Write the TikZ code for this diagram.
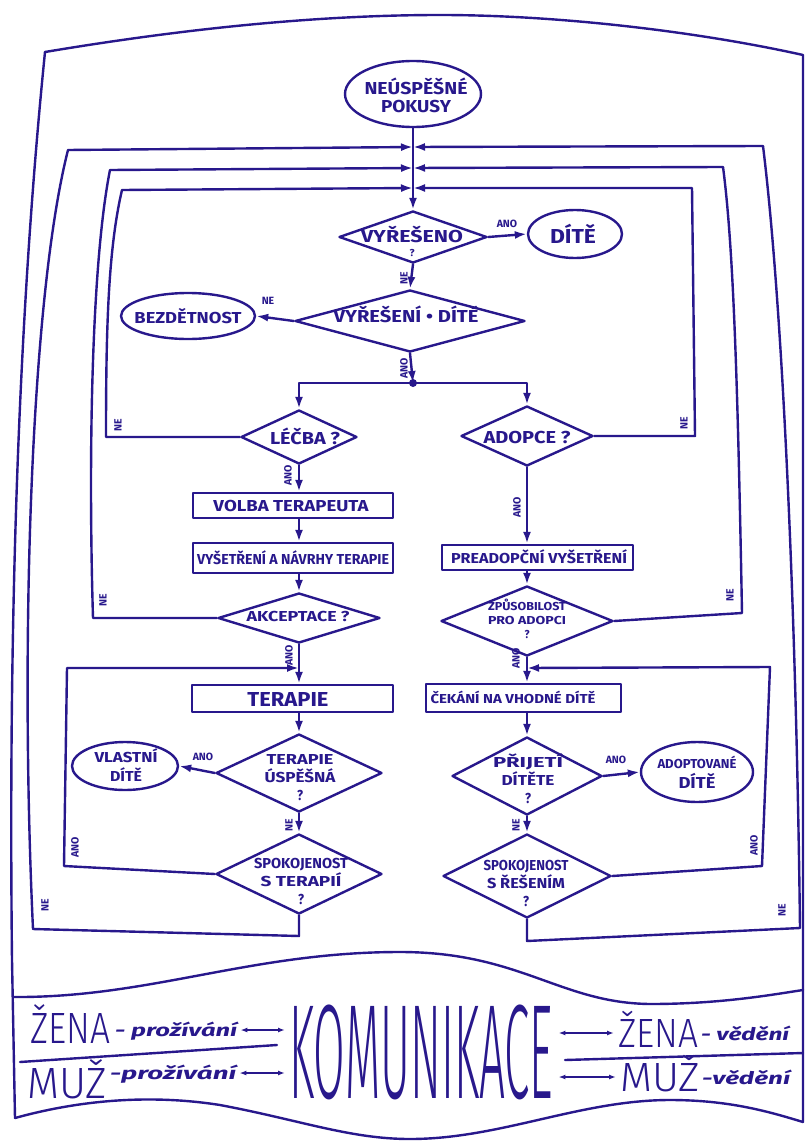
\documentclass[tikz,border=0pt]{standalone}
\usepackage{graphicx}
\usepackage{fontspec}
\setmainfont{Fira Sans}
\newfontfamily\thinfont{Fira Sans Light}
\usetikzlibrary{shapes.geometric,arrows.meta}
\definecolor{ink}{RGB}{40,24,140}
% caps text scaled to a given width and cap height
\newcommand\cbox[3]{\resizebox{#1}{#2}{\raisebox{0pt}[\fontcharht\font`X][0pt]{#3}}}
\tikzset{
  ln/.style={draw=ink, line width=2.4pt, line join=round, line cap=round},
  arr/.style={ln, -{Latex[length=12pt,width=8pt]}},
  dbl/.style={draw=ink, line width=1.4pt, {Latex[length=7pt,width=5pt]}-{Latex[length=7pt,width=5pt]}},
  ell/.style={ln, ellipse, inner sep=0pt},
  dia/.style={ln, diamond, inner sep=0pt},
  boxn/.style={ln, rectangle, inner sep=0pt},
  lbl/.style={text=ink, inner sep=0pt, font=\bfseries\fontsize{10.5}{12}\selectfont},
  txt/.style={text=ink, inner sep=0pt, align=center, font=\bfseries\fontsize{12}{18}\selectfont},
  big/.style={text=ink, inner sep=0pt, anchor=base west},
}
\begin{document}
\begin{tikzpicture}[x=1pt,y=-1pt]
\useasboundingbox (0,0) rectangle (805,1142);
\fill[white] (0,0) rectangle (805,1142);

% ---------- outer frame and bottom band ----------
\draw[ln] (45,52) .. controls (200,26) and (330,15) .. (440,15)
  .. controls (560,15) and (700,32) .. (803,55) -- (803,1122);
\draw[ln] (45,52) .. controls (20,300) and (8,600) .. (12,960) -- (15,1118);
\draw[ln] (13,997) .. controls (150,998) and (250,952) .. (400,952)
  .. controls (520,952) and (560,1003) .. (650,1004)
  .. controls (720,1004) and (770,995) .. (803,990);
\draw[ln] (15,1118) .. controls (80,1100) and (150,1094) .. (220,1105)
  .. controls (300,1120) and (350,1139) .. (410,1139)
  .. controls (500,1139) and (580,1100) .. (670,1100)
  .. controls (730,1100) and (770,1112) .. (803,1122);
\draw[ln] (20,1062) -- (277,1045);
\draw[ln] (565,1060) -- (803,1053);

% ---------- flowchart nodes ----------
\node[ell, minimum width=136pt, minimum height=66pt] (start) at (413,94) {};
\node[txt] (startT) at (416,98) {\cbox{103pt}{12pt}{NEÚSPĚŠNÉ}\\\cbox{70pt}{12pt}{POKUSY}};

\node[dia, minimum width=148pt, minimum height=52pt] (d1) at (413,237) {};
\node[txt] (d1T) at (412,236) {\cbox{102pt}{12pt}{VYŘEŠENO}};
\node[txt] (d1Q) at (412,253) {\cbox{5pt}{7pt}{?}};

\node[ell, minimum width=94pt, minimum height=48pt] (e1) at (575,234) {};
\node[txt] (e1T) at (573,236) {\cbox{46pt}{14pt}{DÍTĚ}};

\node[dia, minimum width=230pt, minimum height=62pt] (d2) at (410,321) {};
\node[txt] (d2T) at (406,316) {\cbox{145pt}{12pt}{VYŘEŠENÍ • DÍTĚ}};

\node[ell, minimum width=134pt, minimum height=46pt] (e2) at (188,316) {};
\node[txt] (e2T) at (188,318) {\cbox{107pt}{11pt}{BEZDĚTNOST}};

\fill[ink] (413,383) circle (4pt);
\coordinate (split) at (413,383);

\node[dia, minimum width=116pt, minimum height=54pt] (d3) at (299,437) {};
\node[txt] (d3T) at (305,438) {\cbox{70pt}{12pt}{LÉČBA ?}};

\node[dia, minimum width=132pt, minimum height=60pt] (d4) at (527,436) {};
\node[txt] (d4T) at (527,437) {\cbox{87pt}{12pt}{ADOPCE ?}};

\node[boxn, minimum width=200pt, minimum height=25pt] (b1) at (293,505.5) {};
\node[txt] (b1T) at (291,506) {\cbox{155pt}{11pt}{VOLBA TERAPEUTA}};

\node[boxn, minimum width=200pt, minimum height=30pt] (b2) at (293,558) {};
\node[txt] (b2T) at (293,559) {\cbox{192pt}{10pt}{VYŠETŘENÍ A NÁVRHY TERAPIE}};

\node[boxn, minimum width=191pt, minimum height=25pt] (b3) at (537.5,557.5) {};
\node[txt] (b3T) at (539,558) {\cbox{176pt}{10pt}{PREADOPČNÍ VYŠETŘENÍ}};

\node[dia, minimum width=162pt, minimum height=50pt] (d5) at (299,618) {};
\node[txt] (d5T) at (298,616) {\cbox{103pt}{10pt}{AKCEPTACE ?}};

\node[dia, minimum width=172pt, minimum height=70pt] (d6) at (527,621) {};
\node[txt, font=\bfseries\fontsize{8}{14}\selectfont] (d6T) at (527,620)
  {\cbox{78pt}{8pt}{ZPŮSOBILOST}\\\cbox{78pt}{8pt}{PRO ADOPCI}\\\cbox{5pt}{8pt}{?}};

\node[boxn, minimum width=201pt, minimum height=27pt] (b4) at (292.5,698.5) {};
\node[txt] (b4T) at (288,699) {\cbox{81pt}{14pt}{TERAPIE}};

\node[boxn, minimum width=195pt, minimum height=28pt] (b5) at (523.5,698) {};
\node[txt] (b5T) at (513,699) {\cbox{165pt}{9pt}{ČEKÁNÍ NA VHODNÉ DÍTĚ}};

\node[dia, minimum width=166pt, minimum height=78pt] (d7) at (299,773) {};
\node[txt, font=\bfseries\fontsize{11}{18}\selectfont] (d7T) at (300,777)
  {\cbox{67pt}{10pt}{TERAPIE}\\\cbox{71pt}{10pt}{ÚSPĚŠNÁ}\\\cbox{6pt}{10pt}{?}};

\node[ell, minimum width=106pt, minimum height=48pt] (e3) at (125,766) {};
\node[txt, font=\bfseries\fontsize{10}{19}\selectfont] (e3T) at (126,767)
  {\cbox{63pt}{10pt}{VLASTNÍ}\\\cbox{32pt}{10pt}{DÍTĚ}};

\node[dia, minimum width=150pt, minimum height=78pt] (d8) at (527,776) {};
\node[txt, font=\bfseries\fontsize{10}{18}\selectfont] (d8T) at (528,780)
  {\cbox{70pt}{10pt}{PŘIJETÍ}\\\cbox{53pt}{10pt}{DÍTĚTE}\\\cbox{6pt}{10pt}{?}};

\node[ell, minimum width=112pt, minimum height=60pt] (e4) at (697,772) {};
\node[txt, font=\bfseries\fontsize{10}{20}\selectfont] (e4T) at (697,774)
  {\cbox{79pt}{9pt}{ADOPTOVANÉ}\\\cbox{37pt}{11pt}{DÍTĚ}};

\node[dia, minimum width=166pt, minimum height=80pt] (d9) at (299,874) {};
\node[txt, font=\bfseries\fontsize{10}{18}\selectfont] (d9T) at (301,881)
  {\cbox{94pt}{10pt}{SPOKOJENOST}\\\cbox{81pt}{10pt}{S TERAPIÍ}\\\cbox{6pt}{10pt}{?}};

\node[dia, minimum width=168pt, minimum height=84pt] (d10) at (527,876) {};
\node[txt, font=\bfseries\fontsize{10}{18}\selectfont] (d10T) at (526,883)
  {\cbox{85pt}{10pt}{SPOKOJENOST}\\\cbox{78pt}{10pt}{S ŘEŠENÍM}\\\cbox{6pt}{10pt}{?}};

% ---------- junction points ----------
\coordinate (c1) at (413,147);
\coordinate (c2) at (413,168);
\coordinate (c3) at (413,188);
\coordinate (jL) at (299,668);
\coordinate (jR) at (527,668);

% ---------- main connectors ----------
\draw[arr] (start.south) -- (d1.north);
\draw[arr] (d1.east) -- (e1.west);
\draw[arr] (d1.south) -- (d2.north);
\draw[arr] (d2.west) -- (e2.east);
\draw[arr] (d2.south) -- (split);
\draw[arr] (split) -- (299,383) -- (d3.north);
\draw[arr] (split) -- (527,383) -- (d4.north);
\draw[arr] (d3.south) -- (d3.south |- b1.north);
\draw[arr] (d3.south |- b1.south) -- (d3.south |- b2.north);
\draw[arr] (d5.north |- b2.south) -- (d5.north);
\draw[arr] (d5.south) -- (d5.south |- b4.north);
\draw[arr] (d7.north |- b4.south) -- (d7.north);
\draw[arr] (d7.west) -- (e3.east);
\draw[arr] (d7.south) -- (d9.north);
\draw[arr] (d4.south) -- (d4.south |- b3.north);
\draw[arr] (d6.north |- b3.south) -- (d6.north);
\draw[arr] (d6.south) -- (d6.south |- b5.north);
\draw[arr] (d8.north |- b5.south) -- (d8.north);
\draw[arr] (d8.east) -- (e4.west);
\draw[arr] (d8.south) -- (d10.north);

% ---------- feedback loops ----------
\draw[arr] (d9.south) -- (299,936) -- (33,929) .. controls (20,650) and (30,300) .. (68,150) -- (c1);
\draw[arr] (d10.south) -- (527,941) -- (800,928) .. controls (796,600) and (782,300) .. (763,146) -- (c1);
\draw[arr] (d5.west) -- (93,618) .. controls (88,450) and (92,260) .. (110,170) -- (c2);
\draw[arr] (d6.east) -- (742,613) .. controls (738,400) and (734,250) .. (723,167) -- (c2);
\draw[arr] (d3.west) -- (106,437) .. controls (106,330) and (108,250) .. (122,190) -- (c3);
\draw[arr] (d4.east) -- (695,436) -- (692,188) -- (c3);
\draw[arr] (d9.west) -- (64,866) -- (67,668) -- (jL);
\draw[arr] (d10.east) -- (762,866) -- (770,667) -- (jR);

% ---------- branch labels ----------
\node[lbl] (l1) at (507,224) {ANO};
\node[lbl, rotate=90] (l2) at (404,278) {NE};
\node[lbl] (l3) at (268,301) {NE};
\node[lbl, rotate=90] (l4) at (404,368) {ANO};
\node[lbl, rotate=90] (l5) at (118,425) {NE};
\node[lbl, rotate=90] (l6) at (684,423) {NE};
\node[lbl, rotate=90] (l7) at (288,475) {ANO};
\node[lbl, rotate=90] (l8) at (517,507) {ANO};
\node[lbl, rotate=90] (l9) at (103,600) {NE};
\node[lbl, rotate=90] (l10) at (730,595) {NE};
\node[lbl, rotate=90] (l11) at (289,655) {ANO};
\node[lbl, rotate=90] (l12) at (516,658) {ANO};
\node[lbl] (l13) at (203,757) {ANO};
\node[lbl] (l14) at (616,760) {ANO};
\node[lbl, rotate=90] (l15) at (289,825) {NE};
\node[lbl, rotate=90] (l16) at (516,825) {NE};
\node[lbl, rotate=90] (l17) at (75,847) {ANO};
\node[lbl, rotate=90] (l18) at (754,845) {ANO};
\node[lbl, rotate=90] (l19) at (45,905) {NE};
\node[lbl, rotate=90] (l20) at (782,910) {NE};

% ---------- communication band ----------
\node[big, font=\thinfont] (zenaL) at (30,1043) {\cbox{80pt}{30pt}{ŽENA}};
\node[big, font=\bfseries\itshape] (prozL1) at (115,1036) {\cbox{122pt}{12pt}{- prožívání}};
\node[big, font=\thinfont] (muzL) at (27,1098) {\cbox{80pt}{30pt}{MUŽ}};
\node[big, font=\bfseries\itshape] (prozL2) at (110,1079) {\cbox{126pt}{12pt}{-prožívání}};
\node[big, font=\thinfont] (kom) at (289,1098) {\cbox{264pt}{92pt}{KOMUNIKACE}};
\node[big, font=\thinfont] (zenaR) at (618,1047) {\cbox{80pt}{28pt}{ŽENA}};
\node[big, font=\bfseries\itshape] (vedR1) at (701,1040) {\cbox{88pt}{12pt}{- vědění}};
\node[big, font=\thinfont] (muzR) at (620,1091) {\cbox{80pt}{28pt}{MUŽ}};
\node[big, font=\bfseries\itshape] (vedR2) at (702,1084) {\cbox{88pt}{12pt}{-vědění}};

\draw[dbl] ([xshift=3pt]prozL1.east) -- ([xshift=-4pt]prozL1.east -| kom.west);
\draw[dbl] ([xshift=3pt]prozL2.east) -- ([xshift=-4pt]prozL2.east -| kom.west);
\draw[dbl] ([xshift=5pt]kom.east |- zenaR.west) -- ([xshift=-4pt]zenaR.west);
\draw[dbl] ([xshift=5pt]kom.east |- muzR.west) -- ([xshift=-4pt]muzR.west);
\end{tikzpicture}
\end{document}
